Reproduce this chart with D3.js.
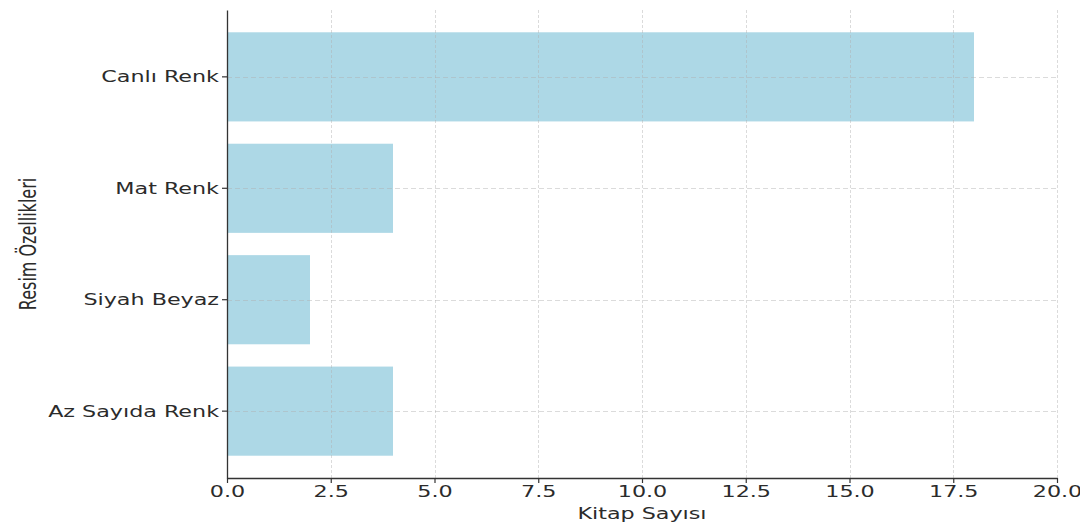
<!DOCTYPE html>
<html>
<head>
<meta charset="utf-8">
<script src="https://cdn.jsdelivr.net/npm/d3@7"></script>
<style>
  html, body { margin: 0; padding: 0; background: #fff; }
  svg { display: block; }
  text { font-family: "DejaVu Sans", sans-serif; fill: #2b2b2b; }
</style>
</head>
<body>
<svg id="chart" width="1080" height="524"></svg>
<script>
const categories = ["Canlı Renk", "Mat Renk", "Siyah Beyaz", "Az Sayıda Renk"];
const values = [18, 4, 2, 4];
const xTicks = [0, 2.5, 5, 7.5, 10, 12.5, 15, 17.5, 20];
const xLabel = "Kitap Sayısı";
const yLabel = "Resim Özellikleri";

const W = 1080, H = 524;
const m = { left: 227, right: 23, top: 10, bottom: 46 };
const SX = 1.39; // horizontal stretch of text
const FS = 16;

const svg = d3.select("#chart");
const x = d3.scaleLinear().domain([0, 20]).range([m.left, W - m.right]);
const y = d3.scaleBand().domain(categories).range([m.top, H - m.bottom])
  .paddingInner(0.2).paddingOuter(0.2);

// bars
svg.append("g").selectAll("rect").data(categories).join("rect")
  .attr("x", x(0))
  .attr("y", d => y(d))
  .attr("width", (d, i) => x(values[i]) - x(0))
  .attr("height", y.bandwidth())
  .attr("fill", "#add8e6");

// grid
const grid = svg.append("g").attr("stroke", "#b0b0b0").attr("stroke-opacity", 0.45).attr("stroke-width", 1);
grid.selectAll("line.v").data(xTicks.slice(1)).join("line")
  .attr("class", "v")
  .attr("x1", d => Math.round(x(d)) + 0.5).attr("x2", d => Math.round(x(d)) + 0.5)
  .attr("y1", m.top).attr("y2", H - m.bottom)
  .attr("stroke-dasharray", "3,2");
grid.selectAll("line.h").data(categories).join("line")
  .attr("class", "h")
  .attr("x1", x(0)).attr("x2", x(20))
  .attr("y1", d => Math.round(y(d) + y.bandwidth() / 2) + 0.5)
  .attr("y2", d => Math.round(y(d) + y.bandwidth() / 2) + 0.5)
  .attr("stroke-dasharray", "5,3");

// x axis
const xAxis = svg.append("g")
  .attr("transform", `translate(0,${H - m.bottom})`)
  .call(d3.axisBottom(x).tickValues(xTicks).tickFormat(d3.format(".1f")).tickSize(5).tickSizeOuter(0));
xAxis.select(".domain").attr("stroke", "#333").attr("stroke-width", 1.3);
xAxis.selectAll(".tick line").attr("stroke", "#333").attr("stroke-width", 1.2);
xAxis.selectAll(".tick text")
  .attr("font-size", FS).attr("font-family", "DejaVu Sans").attr("fill", "#2b2b2b")
  .attr("y", 0).attr("dy", 0)
  .attr("transform", `translate(0,19) scale(${SX},1)`);

// y axis
const yAxis = svg.append("g")
  .attr("transform", `translate(${m.left},0)`)
  .call(d3.axisLeft(y).tickSize(5).tickSizeOuter(0));
yAxis.select(".domain").attr("stroke", "#333").attr("stroke-width", 1.3);
yAxis.selectAll(".tick line").attr("stroke", "#333").attr("stroke-width", 1.2);
yAxis.selectAll(".tick text")
  .attr("font-size", FS).attr("font-family", "DejaVu Sans").attr("fill", "#2b2b2b")
  .attr("x", 0).attr("dy", "0.35em")
  .attr("transform", `translate(-8,0) scale(${SX},1)`);

// axis labels
svg.append("text")
  .attr("text-anchor", "middle")
  .attr("font-size", FS)
  .attr("transform", `translate(${(x(0) + x(20)) / 2},${H - 5}) scale(${SX},1)`)
  .text(xLabel);

svg.append("text")
  .attr("text-anchor", "middle")
  .attr("font-size", FS)
  .attr("transform", `translate(36,${(m.top + H - m.bottom) / 2}) scale(${SX},1) rotate(-90)`)
  .text(yLabel);
</script>
</body>
</html>
